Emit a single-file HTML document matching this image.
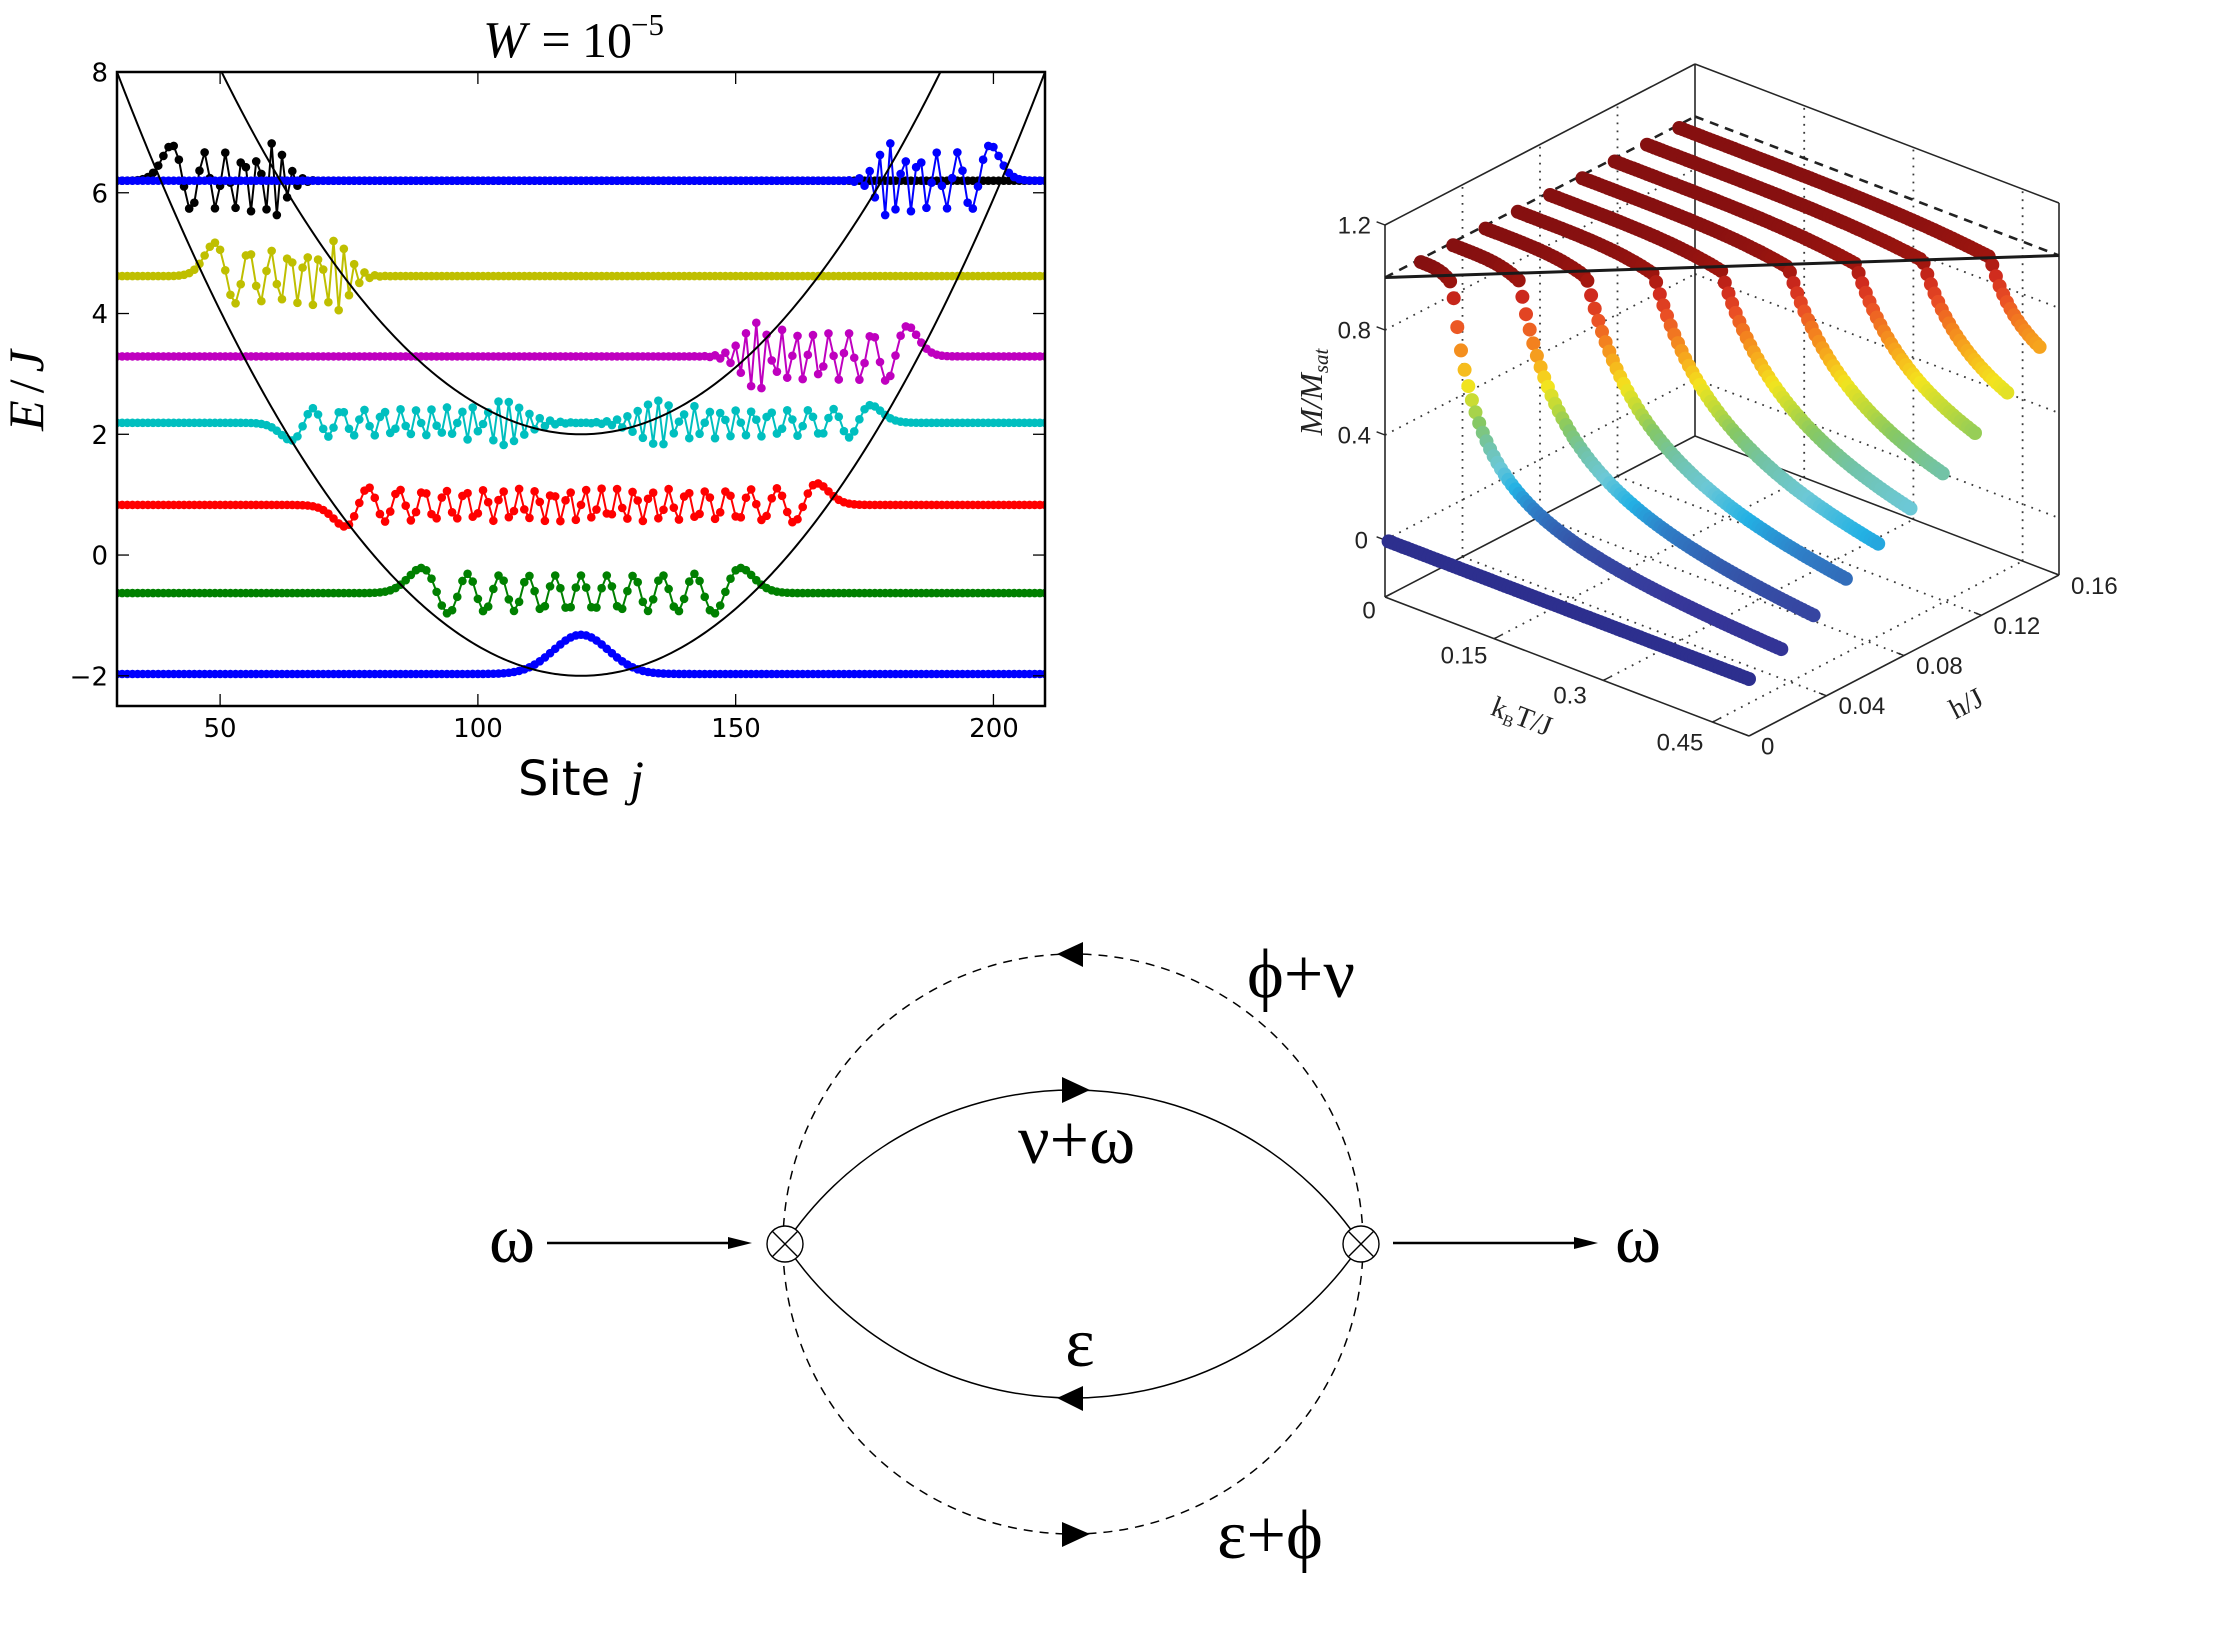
<!DOCTYPE html>
<html><head><meta charset="utf-8">
<style>
html,body{margin:0;padding:0;background:#fff;}
body{width:2232px;height:1636px;overflow:hidden;}
svg{display:block;}
</style></head>
<body>
<svg id="s" width="2232" height="1636" viewBox="0 0 2232 1636" xmlns="http://www.w3.org/2000/svg">
<defs><clipPath id="ax"><rect x="117" y="72" width="928" height="634"/></clipPath></defs>
<rect width="2232" height="1636" fill="#fff"/>

<!-- ============ LEFT PLOT ============ -->
<g id="lseries" clip-path="url(#ax)"></g>
<g id="lpar" clip-path="url(#ax)"></g>
<g id="lticks" stroke="#000" stroke-width="1.3"></g>
<rect x="117" y="72" width="928" height="634" fill="none" stroke="#000" stroke-width="2.5"/>

<g font-family="DejaVu Sans, Liberation Sans, sans-serif" font-size="26" fill="#000">
<text x="108" y="81.5" text-anchor="end">8</text>
<text x="108" y="202.3" text-anchor="end">6</text>
<text x="108" y="323" text-anchor="end">4</text>
<text x="108" y="443.8" text-anchor="end">2</text>
<text x="108" y="564.5" text-anchor="end">0</text>
<text x="108" y="685.3" text-anchor="end">−2</text>
<text x="220" y="737" text-anchor="middle">50</text>
<text x="478" y="737" text-anchor="middle">100</text>
<text x="736" y="737" text-anchor="middle">150</text>
<text x="994" y="737" text-anchor="middle">200</text>
</g>
<!-- title -->
<g font-family="Liberation Serif, DejaVu Serif, serif" fill="#000">
<text x="483" y="57" font-size="52" font-style="italic">W</text>
<text x="556" y="57" font-size="52" text-anchor="middle">=</text>
<text x="582" y="57" font-size="50">10</text>
<text x="631" y="35" font-size="31">−5</text>
</g>
<!-- y label -->
<text transform="translate(43,387) rotate(-90)" text-anchor="middle" font-family="Liberation Serif, DejaVu Serif, serif" font-size="50" fill="#000" letter-spacing="7"><tspan font-style="italic">E</tspan>/<tspan font-style="italic">J</tspan></text>
<!-- x label -->
<text x="518" y="795" font-family="DejaVu Sans, Liberation Sans, sans-serif" font-size="48" fill="#000">Site</text>
<text x="630" y="795" font-family="Liberation Serif, DejaVu Serif, serif" font-style="italic" font-size="50" fill="#000">j</text>

<!-- ============ 3D PLOT ============ -->
<g id="g3grid"></g>
<g id="g3pts"></g>
<g id="g3top"></g>
<g font-family="Liberation Sans, Arial, sans-serif" font-size="24" fill="#222">
<text x="1371" y="233.5" text-anchor="end">1.2</text>
<text x="1371" y="338.5" text-anchor="end">0.8</text>
<text x="1371" y="443.5" text-anchor="end">0.4</text>
<text x="1368" y="548.5" text-anchor="end">0</text>
<text x="1369" y="618.5" text-anchor="middle">0</text>
<text x="1464" y="663.5" text-anchor="middle">0.15</text>
<text x="1570" y="703.5" text-anchor="middle">0.3</text>
<text x="1680" y="750.5" text-anchor="middle">0.45</text>
<text x="1761" y="754.5">0</text>
<text x="1838.5" y="714">0.04</text>
<text x="1916" y="674">0.08</text>
<text x="1993.5" y="634">0.12</text>
<text x="2071" y="594">0.16</text>
</g>
<text transform="translate(1322,392) rotate(-90)" text-anchor="middle" font-family="Liberation Serif, DejaVu Serif, serif" font-style="italic" font-size="32" fill="#222">M/M<tspan font-size="21" dy="6">sat</tspan></text>
<text transform="translate(1522,716) rotate(21)" y="10" text-anchor="middle" font-family="Liberation Serif, DejaVu Serif, serif" font-size="29" fill="#222">k<tspan font-size="16" dy="5">B</tspan><tspan dy="-5">T/J</tspan></text>
<text transform="translate(1966,703) rotate(-27)" y="10" text-anchor="middle" font-family="Liberation Serif, DejaVu Serif, serif" font-size="29" fill="#222">h/J</text>

<!-- ============ DIAGRAM ============ -->
<g fill="none" stroke="#000">
<circle cx="1073" cy="1244" r="290" stroke-width="1.5" stroke-dasharray="9 7"/>
<path d="M785 1244 A346.3 346.3 0 0 1 1361 1244" stroke-width="1.5"/>
<path d="M785 1244 A346.3 346.3 0 0 0 1361 1244" stroke-width="1.5"/>
<line x1="547" y1="1243" x2="732" y2="1243" stroke-width="2.6"/>
<line x1="1393" y1="1243" x2="1578" y2="1243" stroke-width="2.6"/>
</g>
<g fill="#000">
<polygon points="752,1243 728,1237 728,1249"/>
<polygon points="1598,1243 1574,1237 1574,1249"/>
<polygon points="1090,1090 1062,1077 1062,1103"/>
<polygon points="1057,954 1083,942 1083,967"/>
<polygon points="1057,1398 1083,1386 1083,1411"/>
<polygon points="1090,1534 1062,1522 1062,1547"/>
</g>
<g stroke="#000" stroke-width="1.4">
<circle cx="785" cy="1244" r="18" fill="#fff"/>
<line x1="772.3" y1="1231.3" x2="797.7" y2="1256.7"/>
<line x1="772.3" y1="1256.7" x2="797.7" y2="1231.3"/>
<circle cx="1361" cy="1244" r="18" fill="#fff"/>
<line x1="1348.3" y1="1231.3" x2="1373.7" y2="1256.7"/>
<line x1="1348.3" y1="1256.7" x2="1373.7" y2="1231.3"/>
</g>
<g font-family="Liberation Serif, DejaVu Serif, serif" font-size="70" fill="#000">
<text x="512" y="1262" text-anchor="middle">ω</text>
<text x="1638" y="1262" text-anchor="middle">ω</text>
<text x="1247" y="997">ϕ+ν</text>
<text x="1018" y="1163">ν+ω</text>
<text x="1080" y="1366" text-anchor="middle">ε</text>
<text x="1270" y="1558" text-anchor="middle">ε+ϕ</text>
</g>
</svg>

<script>
(function(){
const NS='http://www.w3.org/2000/svg';
function el(tag,attrs,parent){const e=document.createElementNS(NS,tag);for(const k in attrs)e.setAttribute(k,attrs[k]);parent.appendChild(e);return e;}

/* ---------- tridiagonal eigen solver (QL implicit) ---------- */
function eigTri(diag,offd){
  const n=diag.length;
  const d=Float64Array.from(diag), e=new Float64Array(n);
  for(let i=0;i<n-1;i++) e[i]=offd[i];
  e[n-1]=0;
  const z=[]; for(let i=0;i<n;i++){const r=new Float64Array(n); r[i]=1; z.push(r);}
  for(let l=0;l<n;l++){
    let iter=0,m;
    do{
      for(m=l;m<n-1;m++){const dd=Math.abs(d[m])+Math.abs(d[m+1]); if(Math.abs(e[m])<=1e-13*(dd+1)) break;}
      if(m!==l){
        if(iter++>=200) break;
        let g=(d[l+1]-d[l])/(2*e[l]);
        let r=Math.hypot(g,1);
        g=d[m]-d[l]+e[l]/(g+(g>=0?r:-r));
        let s=1,c=1,p=0,i,rz=false;
        for(i=m-1;i>=l;i--){
          let f=s*e[i]; const b=c*e[i];
          r=Math.hypot(f,g); e[i+1]=r;
          if(r===0){d[i+1]-=p; e[m]=0; rz=true; break;}
          s=f/r; c=g/r; g=d[i+1]-p; r=(d[i]-g)*s+2*c*b; p=s*r; d[i+1]=g+p; g=c*r-b;
          for(let k=0;k<n;k++){f=z[k][i+1]; z[k][i+1]=s*z[k][i]+c*f; z[k][i]=c*z[k][i]-s*f;}
        }
        if(rz) continue;
        d[l]-=p; e[l]=g; e[m]=0;
      }
    }while(m!==l);
  }
  const res=[];
  for(let i=0;i<n;i++){const v=new Float64Array(n); for(let k=0;k<n;k++) v[k]=z[k][i]; res.push({E:d[i],v:v});}
  res.sort((a,b)=>a.E-b.E);
  return res;
}

/* ---------- left plot ---------- */
const X=j=>117+(j-30)*928/180, Y=E=>72+(8-E)*634/10.5;
const lt=document.getElementById('lticks');
for(let E=-2;E<=8;E+=2){const y=Y(E);el('line',{x1:117,y1:y,x2:129,y2:y},lt);el('line',{x1:1045,y1:y,x2:1033,y2:y},lt);}
for(let j=50;j<=200;j+=50){const x=X(j);el('line',{x1:x,y1:706,x2:x,y2:694},lt);el('line',{x1:x,y1:72,x2:x,y2:84},lt);}

try{
const N=241, Vf=[], off=[];
for(let j=0;j<N;j++) Vf.push((j-120)*(j-120)/810);
for(let j=0;j<N-1;j++) off.push(-1);
const full=eigTri(Vf,off);
const left=eigTri(Vf.slice(0,121),off.slice(0,120));
const right=eigTri(Vf.slice(120),off.slice(0,120));

function pick(list,target,parity,offset){
  let best=null,bd=1e9;
  for(const s of list){
    if(parity){
      let sum=0; for(let k=1;k<=120;k++) sum+=s.v[120+k]*s.v[120-k];
      if(Math.sign(sum)!==parity) continue;
    }
    const dd=Math.abs(s.E-target); if(dd<bd){bd=dd;best=s;}
  }
  const psi=new Float64Array(N);
  for(let k=0;k<best.v.length;k++) psi[k+offset]=best.v[k];
  return {E:best.E,psi:psi};
}
function fixSign(st,side){
  const dj=Math.sqrt(810*Math.max(st.E+2,0.0001)); let lo,hi;
  if(side==='L'){const jt=120-dj; lo=Math.floor(jt)-2; hi=Math.ceil(jt)+8;}
  else {const jt=120+dj; lo=Math.floor(jt)-8; hi=Math.ceil(jt)+2;}
  lo=Math.max(0,lo); hi=Math.min(N-1,hi);
  let bi=lo; for(let j=lo;j<=hi;j++) if(Math.abs(st.psi[j])>Math.abs(st.psi[bi])) bi=j;
  if(st.psi[bi]<0) for(let j=0;j<N;j++) st.psi[j]=-st.psi[j];
}
const specs=[
  [full,-2,1,0,'R','#0000ff',-1.97],
  [full,-0.65,1,0,'R','#008000',-0.63],
  [full,0.82,-1,0,'R','#ff0000',0.83],
  [full,2.18,-1,0,'R','#00bfbf',2.19],
  [right,3.28,0,120,'R','#bf00bf',3.29],
  [left,4.6,0,0,'L','#bfbf00',4.62],
  [left,6.2,0,0,'L','#000000',6.2],
  [right,6.2,0,120,'R','#0000ff',6.2]
];
const states=specs.map(s=>{const st=pick(s[0],s[1],s[2],s[3]); fixSign(st,s[4]); return st;});
let mx=0; for(let j=0;j<N;j++) mx=Math.max(mx,Math.abs(states[0].psi[j]));
const scale=0.65/mx;
const gs=document.getElementById('lseries');
specs.forEach((s,idx)=>{
  const st=states[idx], col=s[5], E0=s[6];
  const g=el('g',{},gs);
  let pts=[];
  for(let j=28;j<=212;j++){pts.push(X(j).toFixed(2)+','+Y(E0+scale*st.psi[j]).toFixed(2));}
  el('polyline',{points:pts.join(' '),fill:'none',stroke:col,'stroke-width':2,'stroke-linejoin':'round'},g);
  for(let j=29;j<=211;j++){el('circle',{cx:X(j).toFixed(2),cy:Y(E0+scale*st.psi[j]).toFixed(2),r:4.3,fill:col},g);}
});
}catch(err){}

const gp=document.getElementById('lpar');
[-2,2].forEach(c=>{
  let pts=[];
  for(let j=28;j<=212;j+=0.5){pts.push(X(j).toFixed(2)+','+Y(c+(j-120)*(j-120)/810).toFixed(2));}
  el('polyline',{points:pts.join(' '),fill:'none',stroke:'#000','stroke-width':2},gp);
});

/* ---------- 3D plot ---------- */
const zmin=-57/262.5;
const P=(T,h,z)=>[1385+728*T+1937.5*h, 540+278*T-1006.25*h-262.5*z];
const gg=document.getElementById('g3grid'), gpt=document.getElementById('g3pts'), gtop=document.getElementById('g3top');
function L(g,a,b,attrs){const o={x1:a[0].toFixed(1),y1:a[1].toFixed(1),x2:b[0].toFixed(1),y2:b[1].toFixed(1)};for(const k in attrs)o[k]=attrs[k];return el('line',o,g);}
const dot={stroke:'#3a3a3a','stroke-width':1.8,'stroke-dasharray':'1.8 6.2'};
[0.15,0.3,0.45].forEach(T=>L(gg,P(T,0,zmin),P(T,0.16,zmin),dot));
[0.04,0.08,0.12].forEach(h=>L(gg,P(0,h,zmin),P(0.5,h,zmin),dot));
[0.04,0.08,0.12].forEach(h=>L(gg,P(0,h,zmin),P(0,h,1.2),dot));
[0,0.4,0.8].forEach(z=>L(gg,P(0,0,z),P(0,0.16,z),dot));
[0.15,0.3,0.45].forEach(T=>L(gg,P(T,0.16,zmin),P(T,0.16,1.2),dot));
[0,0.4,0.8].forEach(z=>L(gg,P(0,0.16,z),P(0.5,0.16,z),dot));
const dsh={stroke:'#222','stroke-width':2.6,'stroke-dasharray':'9 7'};
L(gg,P(0,0,1),P(0,0.16,1),dsh);
L(gg,P(0,0.16,1),P(0.5,0.16,1),dsh);
const be={stroke:'#262626','stroke-width':1.6};
[[P(0,0,zmin),P(0.5,0,zmin)],[P(0.5,0,zmin),P(0.5,0.16,zmin)],[P(0,0,zmin),P(0,0.16,zmin)],[P(0,0.16,zmin),P(0.5,0.16,zmin)],
 [P(0,0,zmin),P(0,0,1.2)],[P(0,0.16,zmin),P(0,0.16,1.2)],[P(0.5,0.16,zmin),P(0.5,0.16,1.2)],
 [P(0,0,1.2),P(0,0.16,1.2)],[P(0,0.16,1.2),P(0.5,0.16,1.2)]].forEach(e=>L(gg,e[0],e[1],be));
const tk={stroke:'#262626','stroke-width':1.4};
[0,0.4,0.8,1.2].forEach(z=>{const a=P(0,0,z);L(gg,a,[a[0]-8.4,a[1]-3.2],tk);});
[0,0.15,0.3,0.45].forEach(T=>{const a=P(T,0,zmin);L(gg,a,[a[0]+7.1,a[1]-3.7],tk);});
[0,0.04,0.08,0.12,0.16].forEach(h=>{const a=P(0.5,h,zmin);L(gg,a,[a[0]-7.5,a[1]-2.9],tk);});

const stops=[[0,'#2d2f8e'],[0.08,'#37379a'],[0.15,'#3553a8'],[0.22,'#2f80c8'],[0.27,'#23b1e4'],[0.33,'#6cc8d6'],[0.40,'#72c3a6'],[0.47,'#85c865'],[0.53,'#bcd93a'],[0.60,'#f3e41e'],[0.67,'#f7b11d'],[0.74,'#f3831f'],[0.82,'#ea4f25'],[0.90,'#cf2a1e'],[0.95,'#a3170f'],[1.0,'#861010']];
const hx=s=>[parseInt(s.substr(1,2),16),parseInt(s.substr(3,2),16),parseInt(s.substr(5,2),16)];
function cmap(v){
  v=Math.max(0,Math.min(1,v));
  for(let i=0;i<stops.length-1;i++){
    if(v<=stops[i+1][0]){const t=(v-stops[i][0])/(stops[i+1][0]-stops[i][0]);const a=hx(stops[i][1]),b=hx(stops[i+1][1]);
      return 'rgb('+Math.round(a[0]+(b[0]-a[0])*t)+','+Math.round(a[1]+(b[1]-a[1])*t)+','+Math.round(a[2]+(b[2]-a[2])*t)+')';}
  }
  return stops[stops.length-1][1];
}
const Me=[0,0.05,0.115,0.19,0.26,0.33,0.40,0.49,0.58,0.69];
function Mval(i,T){
  if(i===0) return 0;
  const Td=0.048*i, b=12/i;
  if(T<=Td) return 1-0.04*Math.pow(T/Td,4);
  const u=(T-Td)/(0.5-Td);
  return Me[i]+(0.96-Me[i])*(1-u)/(1+b*u);
}
for(let i=9;i>=0;i--){
  const h=i*0.15/9;
  for(let k=1;k<=100;k++){
    const T=0.005*k, M=Mval(i,T), p=P(T,h,M);
    el('circle',{cx:p[0].toFixed(1),cy:p[1].toFixed(1),r:7,fill:cmap(M)},gpt);
  }
}
L(gtop,P(0,0,1),P(0.5,0.16,1),{stroke:'#1a1a1a','stroke-width':3});
})();
</script>
</body></html>
